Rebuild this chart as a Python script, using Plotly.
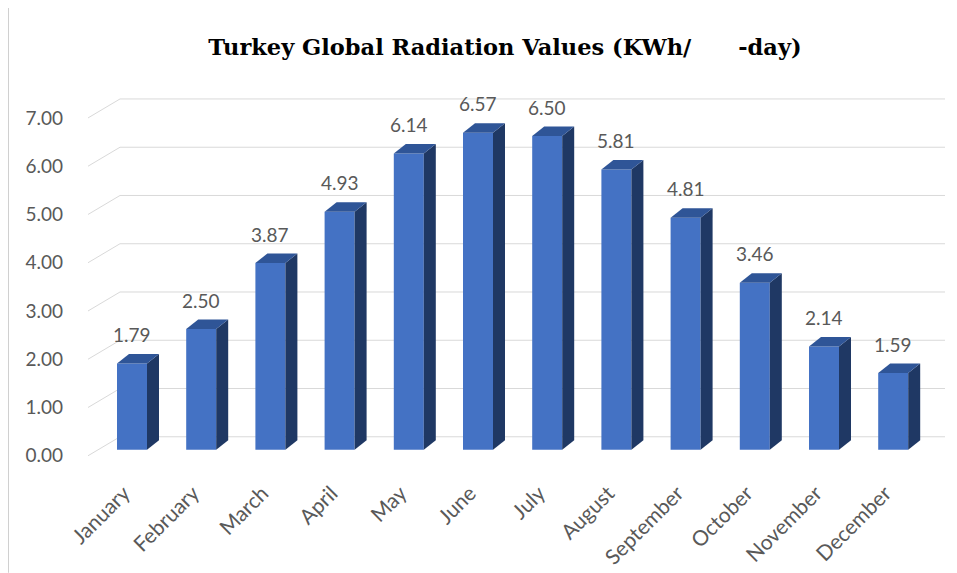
import plotly.graph_objects as go

months = ["January", "February", "March", "April", "May", "June", "July",
          "August", "September", "October", "November", "December"]
values = [1.79, 2.50, 3.87, 4.93, 6.14, 6.57, 6.50, 5.81, 4.81, 3.46, 2.14, 1.59]
y_ticks = [0, 1, 2, 3, 4, 5, 6, 7]
title_text = "Turkey Global Radiation Values (KWh/" + "\u00a0" * 6 + "-day)"

FRONT = "#4472C4"
SIDE = "#1F3864"
TOP = "#2F5597"
GRID = "#D9D9D9"
TXT = "#595959"

PAGE_W, PAGE_H = 957, 573
OFF = 8  # default body margin of the html page
W, H = PAGE_W - OFF, PAGE_H - OFF
# plot area in page pixels
PL, PR, PT, PB = 88, 945, 83, 457.2
L, R, T, B = PL - OFF, PAGE_W - PR, PT - OFF, PAGE_H - PB
px_per_x = 69.2
xmin = -(132 - PL) / px_per_x
xmax = xmin + (PR - PL) / px_per_x
ymin, ymax = -0.15, 7.6
px_per_y = (PB - PT) / (ymax - ymin)

bar_w = 30 / px_per_x
dx = 12 / px_per_x
dy = 9.5 / px_per_y
back_dy = 13 / px_per_y
left_dy = -6 / px_per_y
diag_x = (120 - PL) / (PR - PL)

xs = list(range(len(months)))

fig = go.Figure()
fig.add_trace(go.Bar(x=xs, y=values, width=bar_w, marker=dict(color=FRONT, line=dict(width=0)),
                     hoverinfo="x+y"))

shapes = []
for v in y_ticks:
    shapes.append(dict(type="path", xref="x domain", yref="y",
                       path=f"M 0 {v + left_dy} L {diag_x} {v + back_dy} L 1 {v + back_dy}",
                       line=dict(color=GRID, width=1), layer="below"))

for i, v in enumerate(values):
    xl = i - bar_w / 2
    xr = i + bar_w / 2
    shapes.append(dict(type="path", xref="x", yref="y",
                       path=f"M {xr} 0 L {xr + dx} {dy} L {xr + dx} {v + dy} L {xr} {v} Z",
                       fillcolor=SIDE, line=dict(width=0), layer="above"))
    shapes.append(dict(type="path", xref="x", yref="y",
                       path=f"M {xl} {v} L {xl + dx} {v + dy} L {xr + dx} {v + dy} L {xr} {v} Z",
                       fillcolor=TOP, line=dict(width=0), layer="above"))

# chart border on the left
bx = -(L - 0.5) / (PR - PL)
shapes.append(dict(type="line", xref="paper", yref="paper", x0=bx, x1=bx,
                   y0=-B / (PB - PT), y1=1 + T / (PB - PT),
                   line=dict(color="#D0D0D0", width=1)))

annotations = []
for i, v in enumerate(values):
    annotations.append(dict(x=i, y=v, xref="x", yref="y", text=f"{v:.2f}", showarrow=False,
                            xshift=0, yshift=29, font=dict(family="Lato, Open Sans, sans-serif", size=19, color=TXT)))

fig.update_layout(
    width=W, height=H,
    margin=dict(l=L, r=R, t=T, b=B, autoexpand=False),
    paper_bgcolor="white", plot_bgcolor="white",
    showlegend=False,
    title=dict(text=title_text, x=(505 - OFF) / W, xanchor="center", y=1 - (47 - OFF) / H, yanchor="middle",
               font=dict(family="DejaVu Serif, Liberation Serif, serif", size=22.5, color="black", weight="bold")),
    xaxis=dict(range=[xmin, xmax], tickvals=xs, ticktext=months, tickangle=-45, automargin=False,
               showgrid=False, zeroline=False, showline=False, ticks="",
               ticklabelstandoff=19, ticklabelshift=-8,
               tickfont=dict(family="Lato, Open Sans, sans-serif", size=21, color=TXT)),
    yaxis=dict(range=[ymin, ymax], tickvals=y_ticks, ticktext=[f"{t:.2f}" for t in y_ticks], automargin=False,
               showgrid=False, zeroline=False, showline=False, ticks="",
               ticklabelstandoff=24, ticklabelshift=6,
               tickfont=dict(family="Lato, Open Sans, sans-serif", size=19, color=TXT)),
    shapes=shapes,
    annotations=annotations,
)

fig.write_html("out.html")
